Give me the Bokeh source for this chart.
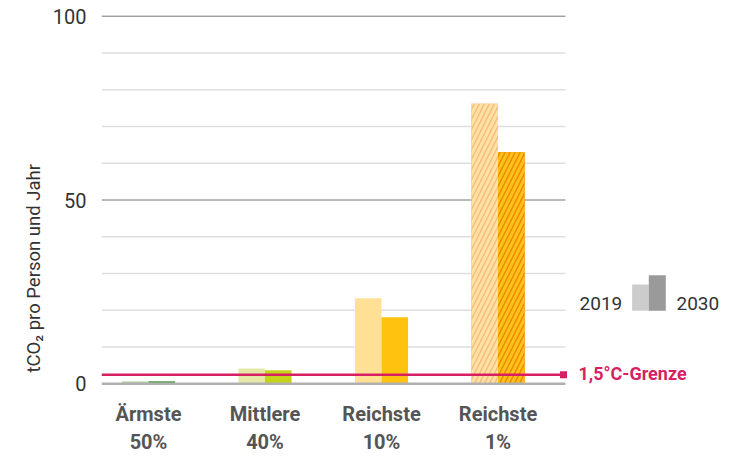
from bokeh.plotting import figure
from bokeh.models import ColumnDataSource, FixedTicker, Range1d, Title
from bokeh.core.properties import value
from bokeh.embed import file_html
from bokeh.resources import INLINE

# ---- data ----
categories = ["Ärmste\n50%", "Mittlere\n40%", "Reichste\n10%", "Reichste\n1%"]
values_2019 = [0.6, 4.2, 23.3, 76.2]
values_2030 = [0.7, 3.7, 18.1, 63.0]
limit_value = 2.5
limit_label = "1,5°C-Grenze"
y_ticks = [0, 50, 100]
grid_values = [10, 20, 30, 40, 60, 70, 80, 90]
major_grid_values = [50, 100]
legend_years = ["2019", "2030"]
axis_title = "tCO₂ pro Person und Jahr"

colors_2019 = ["#acd09c", "#e5e8a6", "#ffe094", "#f7bb82"]
colors_2030 = ["#4d9a4a", "#c4d31a", "#ffc20f", "#ee8900"]
hatch_col_2019 = "#fee2a4"
hatch_col_2030 = "#ffc21a"

FONT = "Roboto"
RED = "#d71f63"

xpos = list(range(len(categories)))
grid_left = -0.4034
grid_right = 3.579

p = figure(width=743, height=457, output_backend="svg", toolbar_location=None,
           x_range=Range1d(-0.4034, 5.107), y_range=Range1d(-1.0, 104.27),
           min_border_left=101, min_border_right=0, min_border_top=0, min_border_bottom=70)
p.outline_line_color = None
p.xgrid.visible = False
p.ygrid.visible = False
p.background_fill_color = "white"
p.border_fill_color = "white"

# grid lines
n = len(grid_values)
p.segment(x0=[grid_left]*n, x1=[grid_right]*n, y0=grid_values, y1=grid_values,
          line_color="#dedede", line_width=1.5)
m = len(major_grid_values)
p.segment(x0=[grid_left]*m, x1=[grid_right]*m, y0=major_grid_values, y1=major_grid_values,
          line_color="#777777", line_width=1)

bw = 0.228
off = 0.114
src19 = ColumnDataSource(dict(x=[x - off for x in xpos], top=values_2019, color=colors_2019))
src30 = ColumnDataSource(dict(x=[x + off for x in xpos], top=values_2030, color=colors_2030))
p.vbar(x="x", top="top", bottom=0, width=bw, source=src19, fill_color="color", line_color=None)
p.vbar(x="x", top="top", bottom=0, width=bw, source=src30, fill_color="color", line_color=None)

# hatched bars for the richest 1%
i = 3
p.vbar(x=[xpos[i] - off], top=[values_2019[i]], bottom=0, width=bw, fill_color=colors_2019[i],
       line_color=None, hatch_pattern="/", hatch_color=hatch_col_2019, hatch_scale=10, hatch_weight=3)
p.vbar(x=[xpos[i] + off], top=[values_2030[i]], bottom=0, width=bw, fill_color=colors_2030[i],
       line_color=None, hatch_pattern="/", hatch_color=hatch_col_2030, hatch_scale=10, hatch_weight=3)

# base line
p.segment(x0=[grid_left], x1=[grid_right], y0=[0], y1=[0], line_color="#b0b0b0", line_width=2.5)

# limit line
p.segment(x0=[grid_left], x1=[3.562], y0=[limit_value], y1=[limit_value], line_color=RED, line_width=2.5)
p.scatter(x=[3.562], y=[limit_value], marker="square", size=7, fill_color=RED, line_color=None)
p.text(x=[3.69], y=[limit_value + 0.3], text=[limit_label], text_font=value(FONT), text_font_size="18px",
       text_font_style="bold", text_color=RED, text_baseline="middle", text_align="left")

# legend
p.text(x=[3.70], y=[21.9], text=[legend_years[0]], text_font=value(FONT), text_font_size="19px",
       text_color="#333333", text_baseline="middle", text_align="left")
p.text(x=[4.532], y=[21.9], text=[legend_years[1]], text_font=value(FONT), text_font_size="19px",
       text_color="#333333", text_baseline="middle", text_align="left")
p.quad(left=[4.151], right=[4.294], bottom=[19.9], top=[27.0], fill_color="#cccccc", line_color=None)
p.quad(left=[4.294], right=[4.440], bottom=[19.9], top=[29.5], fill_color="#9a9a9a", line_color=None)

# axes
p.yaxis.ticker = FixedTicker(ticks=y_ticks)
p.yaxis.axis_line_color = None
p.yaxis.major_tick_line_color = None
p.yaxis.minor_tick_line_color = None
p.yaxis.major_tick_out = 0
p.yaxis.major_label_standoff = 15
p.yaxis.major_label_text_font = FONT
p.yaxis.major_label_text_font_size = "20px"
p.yaxis.major_label_text_color = "#333333"

p.xaxis.ticker = FixedTicker(ticks=xpos)
p.xaxis.major_label_overrides = {x: c for x, c in zip(xpos, categories)}
p.xaxis.axis_line_color = None
p.xaxis.major_tick_line_color = None
p.xaxis.minor_tick_line_color = None
p.xaxis.major_tick_out = 0
p.xaxis.major_label_standoff = 14
p.xaxis.major_label_text_font = FONT
p.xaxis.major_label_text_font_size = "20px"
p.xaxis.major_label_text_font_style = "bold"
p.xaxis.major_label_text_color = "#555555"

p.add_layout(Title(text=axis_title, align="left", offset=15, text_font=FONT,
                   text_font_size="18.5px", text_font_style="normal", text_color="#333333",
                   standoff=10), "left")

open("out.html", "w").write(file_html(p, INLINE))
